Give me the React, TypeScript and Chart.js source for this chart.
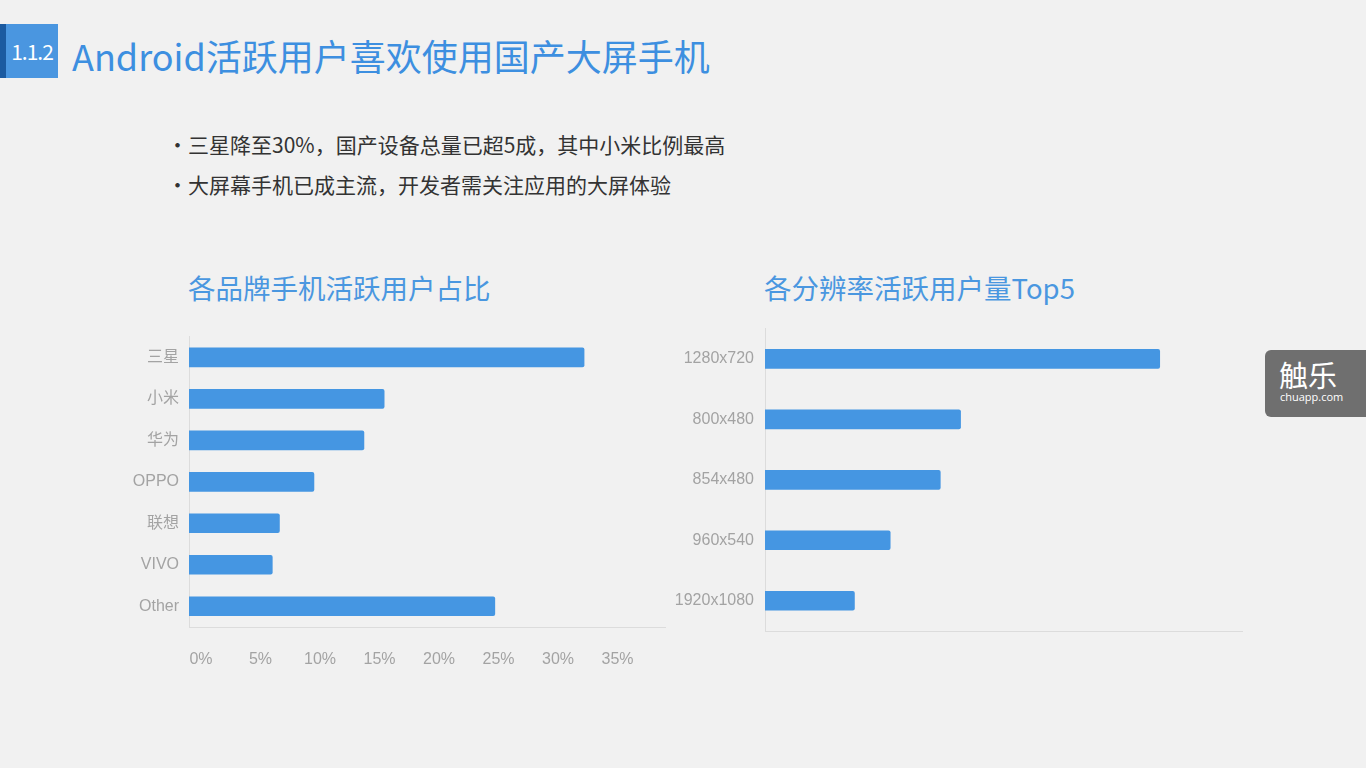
import React, { useEffect, useRef } from "react";
import { Chart, registerables } from "chart.js";

Chart.register(...registerables);

const brandLabels = ["三星", "小米", "华为", "OPPO", "联想", "VIVO", "Other"];
const brandShare = [33.2, 16.4, 14.7, 10.5, 7.6, 7.0, 25.7];
const brandTicks = [0, 5, 10, 15, 20, 25, 30, 35];

const resLabels = ["1280x720", "800x480", "854x480", "960x540", "1920x1080"];
const resUsers = [33.1, 16.4, 14.7, 10.5, 7.5];

const BAR = "#4596e2";
const TICK = "#a3a3a3";
const LINE = "#dcdcdc";
const TICK_FONT = '"Liberation Sans", "Noto Sans CJK SC", sans-serif';

function BrandChart() {
  const ref = useRef<HTMLCanvasElement>(null);
  useEffect(() => {
    const chart = new Chart(ref.current!, {
      type: "bar",
      data: {
        labels: brandLabels,
        datasets: [
          {
            data: brandShare,
            backgroundColor: BAR,
            borderRadius: 2,
            borderSkipped: "start",
            barThickness: 19,
          },
        ],
      },
      options: {
        indexAxis: "y",
        animation: false,
        responsive: false,
        maintainAspectRatio: false,
        layout: { padding: { left: 0, right: 0, top: 0, bottom: 10 } },
        plugins: { legend: { display: false }, tooltip: { enabled: false } },
        scales: {
          x: {
            min: 0,
            max: 40,
            afterBuildTicks: (scale: any) => {
              scale.ticks = [...brandTicks, 40].map((v) => ({ value: v }));
            },
            afterFit: (scale: any) => {
              scale.height = 50;
            },
            ticks: {
              color: TICK,
              font: { family: TICK_FONT, size: 16 },
              padding: 23,
              labelOffset: 12,
              maxRotation: 0,
              autoSkip: false,
              callback: (v: any) => (brandTicks.includes(Number(v)) ? v + "%" : ""),
            },
            grid: { display: false, drawTicks: false },
            border: { display: true, color: LINE, width: 1 },
          },
          y: {
            afterFit: (scale: any) => {
              scale.width = 89;
            },
            ticks: {
              color: TICK,
              font: { family: TICK_FONT, size: 16 },
              padding: 10,
            },
            grid: { display: false, drawTicks: false },
            border: { display: true, color: LINE, width: 1 },
          },
        },
      },
    });
    return () => chart.destroy();
  }, []);
  return (
    <canvas
      ref={ref}
      width={588}
      height={370}
      style={{ position: "absolute", left: 100, top: 317, width: 588, height: 370 }}
    />
  );
}

function ResChart() {
  const ref = useRef<HTMLCanvasElement>(null);
  useEffect(() => {
    const chart = new Chart(ref.current!, {
      type: "bar",
      data: {
        labels: resLabels,
        datasets: [
          {
            data: resUsers,
            backgroundColor: BAR,
            borderRadius: 2,
            borderSkipped: "start",
            barThickness: 19,
          },
        ],
      },
      options: {
        indexAxis: "y",
        animation: false,
        responsive: false,
        maintainAspectRatio: false,
        layout: { padding: { left: 0, right: 18, top: 0, bottom: 47 } },
        plugins: { legend: { display: false }, tooltip: { enabled: false } },
        scales: {
          x: {
            min: 0,
            max: 40,
            afterFit: (scale: any) => {
              scale.height = 0;
            },
            ticks: { display: false },
            grid: { display: false, drawTicks: false },
            border: { display: true, color: LINE, width: 1 },
          },
          y: {
            afterFit: (scale: any) => {
              scale.width = 125;
            },
            ticks: {
              color: TICK,
              font: { family: TICK_FONT, size: 16 },
              padding: 11,
            },
            grid: { display: false, drawTicks: false },
            border: { display: true, color: LINE, width: 1 },
          },
        },
      },
    });
    return () => chart.destroy();
  }, []);
  return (
    <canvas
      ref={ref}
      width={620}
      height={370}
      style={{ position: "absolute", left: 640, top: 308, width: 620, height: 370 }}
    />
  );
}

const CJK = '"Noto Sans CJK SC", "Noto Sans", sans-serif';

export default function App() {
  useEffect(() => {
    document.body.style.margin = "0";
  }, []);
  return (
    <div
      style={{
        position: "absolute",
        left: 0,
        top: 0,
        width: 1366,
        height: 768,
        background: "#f1f1f1",
        overflow: "hidden",
        fontFamily: CJK,
      }}
    >
      <div style={{ position: "absolute", left: 0, top: 24, width: 6, height: 54, background: "#1b5aa0" }} />
      <div
        style={{
          position: "absolute",
          left: 6,
          top: 24,
          width: 52,
          height: 54,
          background: "#4a96e0",
          color: "#fff",
          fontSize: 21,
          lineHeight: "54px",
          textAlign: "center",
          letterSpacing: -1,
        }}
      >
        1.1.2
      </div>
      <div
        style={{
          position: "absolute",
          left: 72,
          top: 30,
          fontSize: 36,
          lineHeight: "50px",
          color: "#3d8fe0",
          whiteSpace: "nowrap",
        }}
      >
        Android活跃用户喜欢使用国产大屏手机
      </div>
      <div style={{ position: "absolute", left: 172, top: 128, fontSize: 21, lineHeight: "32px", color: "#333", whiteSpace: "nowrap" }}>
        <div style={{ position: "relative", paddingLeft: 16 }}>
          <span style={{ position: "absolute", left: -5 }}>•</span>三星降至30%，国产设备总量已超5成，其中小米比例最高
        </div>
        <div style={{ position: "relative", paddingLeft: 16, marginTop: 8 }}>
          <span style={{ position: "absolute", left: -5 }}>•</span>大屏幕手机已成主流，开发者需关注应用的大屏体验
        </div>
      </div>
      <div style={{ position: "absolute", left: 188, top: 267, fontSize: 27.5, lineHeight: "40px", color: "#4a97e0", whiteSpace: "nowrap" }}>
        各品牌手机活跃用户占比
      </div>
      <div style={{ position: "absolute", left: 764, top: 267, fontSize: 27.5, lineHeight: "40px", color: "#4a97e0", whiteSpace: "nowrap" }}>
        各分辨率活跃用户量Top5
      </div>
      <BrandChart />
      <ResChart />
      <div
        style={{
          position: "absolute",
          left: 1265,
          top: 350,
          width: 110,
          height: 67,
          background: "#6f6f6f",
          borderRadius: 6,
          color: "#fff",
        }}
      >
        <div style={{ position: "absolute", left: 14, top: 8, fontSize: 29, lineHeight: "32px" }}>触乐</div>
        <div style={{ position: "absolute", left: 15, top: 40, fontSize: 11, lineHeight: "14px", fontFamily: '"Open Sans", sans-serif' }}>
          chuapp.com
        </div>
      </div>
    </div>
  );
}
